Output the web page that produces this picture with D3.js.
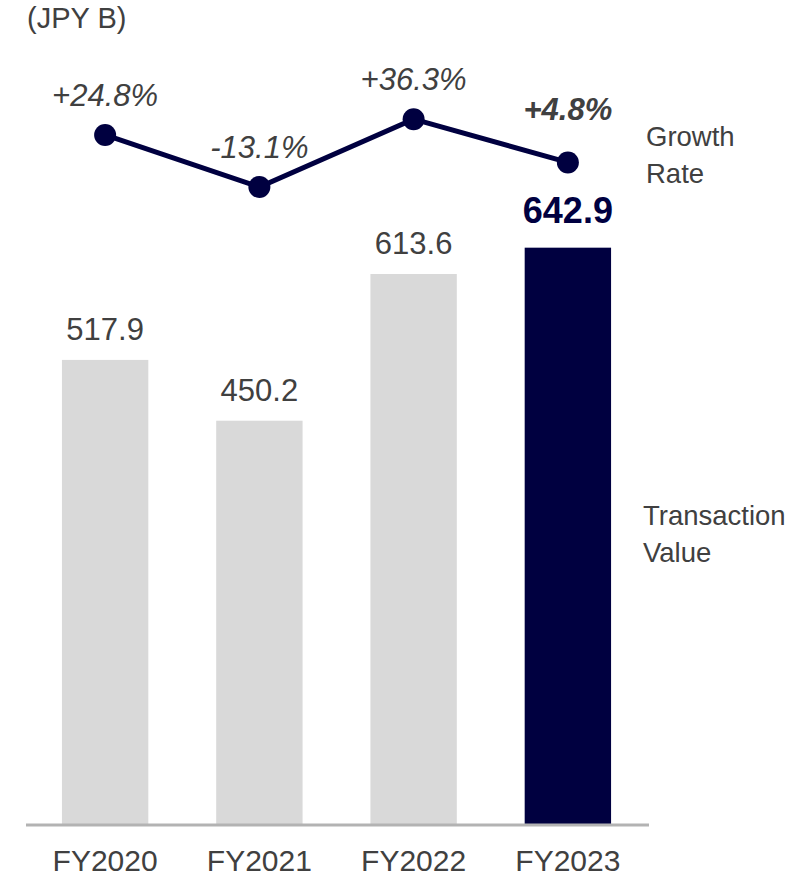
<!DOCTYPE html>
<html>
<head>
<meta charset="utf-8">
<script src="https://cdn.jsdelivr.net/npm/d3@7"></script>
<style>
  html, body { margin: 0; padding: 0; background: #ffffff; }
  svg { display: block; font-family: "Liberation Sans", Arial, sans-serif; }
</style>
</head>
<body>
<svg id="chart" width="809" height="878"></svg>
<script>
// Transaction value (JPY B) and year-on-year growth rate by fiscal year
const categories = ["FY2020", "FY2021", "FY2022", "FY2023"];
const transactionValue = [517.9, 450.2, 613.6, 642.9];
const growthRate = [24.8, -13.1, 36.3, 4.8];
const growthLabels = ["+24.8%", "-13.1%", "+36.3%", "+4.8%"];
const valueLabels = ["517.9", "450.2", "613.6", "642.9"];
const highlightIndex = 3;

const NAVY = "#000040";
const GREY_BAR = "#d9d9d9";
const TEXT = "#404040";

const svg = d3.select("#chart");

const x = d3.scaleBand()
  .domain(categories)
  .range([28, 645])
  .paddingInner(0.44)
  .paddingOuter(0.22);

const y = d3.scaleLinear().domain([0, 700]).range([825, 196.4]);
const yGrowth = d3.scaleLinear().domain([0, 40]).range([169, 114.1]);

// Bars
svg.append("g").selectAll("rect")
  .data(categories)
  .join("rect")
  .attr("x", d => x(d))
  .attr("width", x.bandwidth())
  .attr("y", (d, i) => y(transactionValue[i]))
  .attr("height", (d, i) => y(0) - y(transactionValue[i]))
  .attr("fill", (d, i) => i === highlightIndex ? NAVY : GREY_BAR);

// Baseline axis
const axis = svg.append("g")
  .attr("transform", `translate(0,${y(0)})`)
  .call(d3.axisBottom(x).tickSize(0).tickPadding(0));
axis.select(".domain").attr("stroke", "#b3b3b3").attr("stroke-width", 3)
  .attr("d", "M26,0H649");
axis.selectAll(".tick text")
  .attr("y", 46)
  .attr("dy", null)
  .attr("font-size", 30)
  .attr("fill", TEXT)
  .attr("font-family", "'Liberation Sans', Arial, sans-serif");

// Bar value labels
svg.append("g").selectAll("text")
  .data(categories)
  .join("text")
  .attr("x", d => x(d) + x.bandwidth() / 2)
  .attr("y", (d, i) => y(transactionValue[i]) - (i === highlightIndex ? 25 : 20))
  .attr("text-anchor", "middle")
  .attr("font-size", (d, i) => i === highlightIndex ? 36 : 31)
  .attr("font-weight", (d, i) => i === highlightIndex ? "bold" : "normal")
  .attr("fill", (d, i) => i === highlightIndex ? NAVY : TEXT)
  .text((d, i) => valueLabels[i]);

// Growth rate line
const cx = d => x(d) + x.bandwidth() / 2;
const line = d3.line()
  .x((d, i) => cx(categories[i]))
  .y(d => yGrowth(d));

svg.append("path")
  .datum(growthRate)
  .attr("d", line)
  .attr("fill", "none")
  .attr("stroke", NAVY)
  .attr("stroke-width", 5);

svg.append("g").selectAll("circle")
  .data(growthRate)
  .join("circle")
  .attr("cx", (d, i) => cx(categories[i]))
  .attr("cy", d => yGrowth(d))
  .attr("r", 11)
  .attr("fill", NAVY);

// Growth rate labels
svg.append("g").selectAll("text")
  .data(growthRate)
  .join("text")
  .attr("x", (d, i) => cx(categories[i]))
  .attr("y", (d, i) => yGrowth(d) - (i === highlightIndex ? 42 : 29))
  .attr("text-anchor", "middle")
  .attr("font-size", 31)
  .attr("font-style", "italic")
  .attr("font-weight", (d, i) => i === highlightIndex ? "bold" : "normal")
  .attr("fill", TEXT)
  .text((d, i) => growthLabels[i]);

// Unit label
svg.append("text")
  .attr("x", 27)
  .attr("y", 28)
  .attr("font-size", 29)
  .attr("fill", TEXT)
  .text("(JPY B)");

// Series labels on the right
const seriesLabels = [
  { lines: ["Growth", "Rate"], y: 146, x: 646 },
  { lines: ["Transaction", "Value"], y: 525, x: 643 }
];
seriesLabels.forEach(s => {
  const t = svg.append("text")
    .attr("x", s.x)
    .attr("y", s.y)
    .attr("font-size", 27.5)
    .attr("fill", TEXT);
  s.lines.forEach((ln, k) => {
    t.append("tspan").attr("x", s.x).attr("dy", k === 0 ? 0 : 37).text(ln);
  });
});
</script>
</body>
</html>
